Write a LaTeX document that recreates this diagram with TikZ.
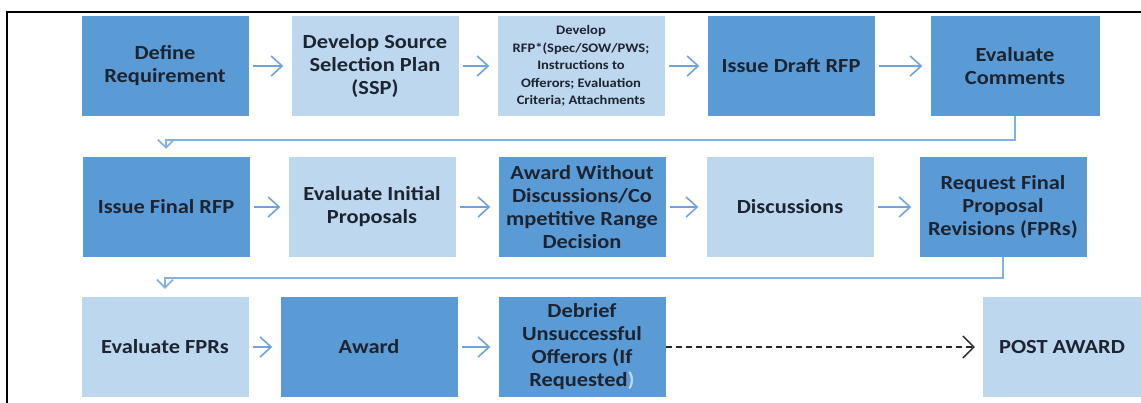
\documentclass[tikz,border=0pt]{standalone}
\usepackage{fontspec}
\setmainfont{Carlito}
\newfontfamily\boxfont[FakeStretch=1.12]{Carlito}
\usepackage{xcolor}
\usetikzlibrary{arrows.meta, positioning}
\definecolor{boxdark}{HTML}{5B9BD5}
\definecolor{boxlight}{HTML}{BDD7EE}
\definecolor{flowblue}{HTML}{6FA3D9}
\definecolor{inkdark}{HTML}{1C2431}

\begin{document}
\begin{tikzpicture}[x=1pt,y=1pt,on grid,node distance=209pt,
        >={Straight Barb[length=11pt,width=20pt]},
        box/.style={minimum width=167pt,minimum height=100pt,inner sep=2pt,align=center,
            text=inkdark,font=\boxfont\fontsize{20}{23}\selectfont\bfseries},
        dark/.style={box,fill=boxdark},
        light/.style={box,fill=boxlight},
        flow/.style={->,draw=flowblue,line width=1.6pt,shorten <=4pt,shorten >=8pt},
        back/.style={-{Straight Barb[length=8pt,width=16pt]},draw=flowblue!85,line width=1.8pt}]

        \useasboundingbox (0,0) rectangle (1141,-403);

        % first row
        \node[dark] (def) at (165,-66) {Define\\Requirement};
        \node[light] (ssp) [right=210pt of def] {Develop Source\\Selection Plan\\(SSP)};
        \node[light,font=\boxfont\fontsize{13}{17.5}\selectfont\bfseries] (rfp) [right=206pt of ssp]
            {Develop\\RFP*(Spec/SOW/PWS;\\Instructions to\\Offerors; Evaluation\\Criteria; Attachments};
        \node[dark] (draft) [right=210pt of rfp] {Issue Draft RFP};
        \node[dark,minimum width=169pt] (cmts) [right=224pt of draft] {Evaluate\\Comments};

        % second row
        \node[dark] (final) at (166,-207) {Issue Final RFP};
        \node[light] (init) [right=206pt of final] {Evaluate Initial\\Proposals};
        \node[dark] (crd) [right=210pt of init] {Award Without\\Discussions/Co\\mpetitive Range\\Decision};
        \node[light] (disc) [right=208pt of crd] {Discussions};
        \node[dark] (fpr) [right=213pt of disc] {Request Final\\Proposal\\Revisions (FPRs)};

        % third row
        \node[light] (evfpr) at (165,-347) {Evaluate FPRs};
        \node[dark,minimum width=177pt] (award) [right=204pt of evfpr] {Award};
        \node[dark] (debrief) [right=213pt of award]
            {Debrief\\Unsuccessful\\Offerors (If\\Requested\textcolor{boxlight}{)}};
        \node[light,minimum width=158pt] (post) [right=480pt of debrief] {POST AWARD};

        \path[flow] (def) edge (ssp)
                    (ssp) edge (rfp)
                    (rfp) edge (draft)
                    (draft) edge (cmts)
                    (final) edge (init)
                    (init) edge (crd)
                    (crd) edge (disc)
                    (disc) edge (fpr)
                    (evfpr) edge (award)
                    (award) edge (debrief);

        \draw[back] (cmts.south) -- ++(0,-24) -| ([yshift=8pt]final.north);
        \draw[back] (fpr.south) -- ++(0,-21) -| ([yshift=8pt]evfpr.north);

        \draw[-{Straight Barb[length=11pt,width=22pt]},black!85,line width=1.3pt,
            dash pattern=on 6pt off 4pt,shorten >=8pt] (debrief) -- (post);

        % frame
        \draw[line width=2.4pt] (7,-403) -- (7,-12) -- (1141,-12);
\end{tikzpicture}
\end{document}
